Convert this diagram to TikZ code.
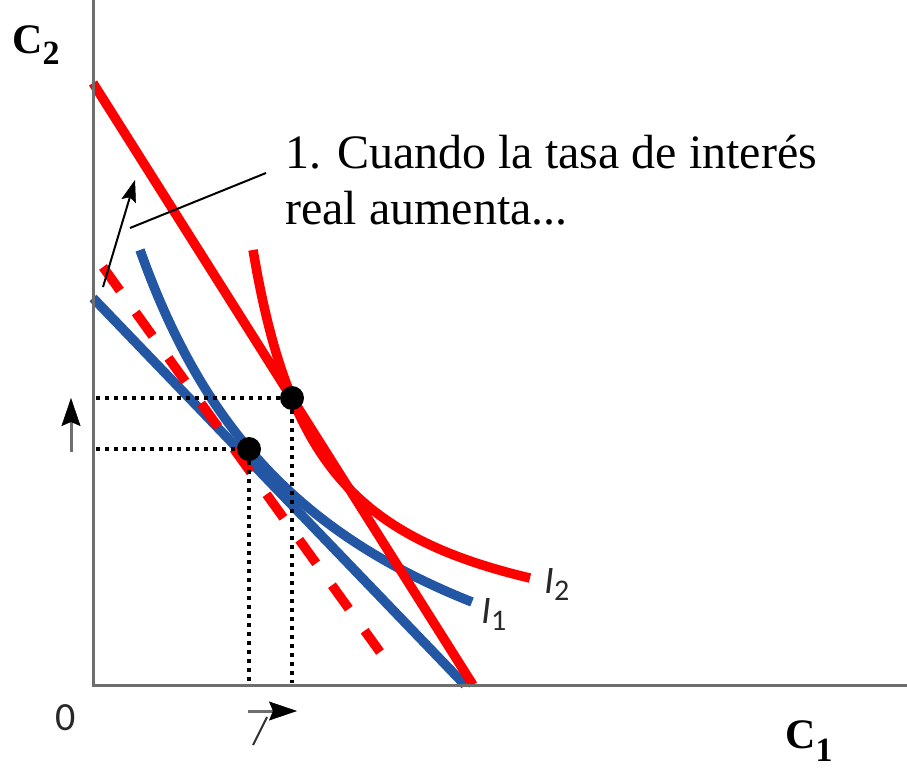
\documentclass[tikz,border=0pt]{standalone}
\usepackage{fontspec}
\setmainfont{Liberation Serif}
\newfontfamily\carl{Carlito}
\usetikzlibrary{arrows.meta}
\definecolor{ecored}{RGB}{255,0,0}
\definecolor{ecoblue}{RGB}{35,87,163}
\definecolor{axisgray}{RGB}{110,110,110}
\definecolor{labgray}{RGB}{40,40,40}
\begin{document}
\begin{tikzpicture}[x=1pt,y=-1pt,
  axisline/.style={draw=axisgray,line width=3pt},
  redline/.style={draw=ecored,line width=9.5pt},
  blueline/.style={draw=ecoblue,line width=9.5pt},
  reddash/.style={draw=ecored,line width=9.5pt,dash pattern=on 29pt off 27pt},
  guide/.style={draw=black,line width=3.5pt,dash pattern=on 3.5pt off 5.5pt},
  eqpt/.style={circle,fill=black,inner sep=0pt,minimum size=24pt},
  grayarrow/.style={draw=axisgray,line width=3pt,-{Stealth[length=28pt,width=19pt,inset=4pt,black,line width=0.5pt]}},
  leader/.style={draw=black,line width=2pt},
  leadarrow/.style={draw=black,line width=2pt,-{Stealth[length=22pt,width=15pt,inset=4pt,black,line width=0.5pt]}},
  bigtext/.style={anchor=base west,inner sep=0pt,font=\fontsize{48}{56}\selectfont},
  axlabel/.style={anchor=base west,inner sep=0pt,font=\bfseries\fontsize{42}{42}\selectfont},
  curvelabel/.style={anchor=base west,inner sep=0pt,text=labgray,font=\carl\fontsize{39}{39}\selectfont}]
\useasboundingbox (0,0) rectangle (907,768);

% coordinates
\coordinate (O) at (93,685);
\coordinate (Ytop) at (93,0);
\coordinate (Xend) at (907,685);
\coordinate (RA) at (93,83);
\coordinate (RB) at (473,685);
\coordinate (BA) at (93,298);
\coordinate (BB) at (465,685);
\coordinate (DA) at (103,267);
\coordinate (DB) at (380,652);

% indifference curve I1 and original budget line
\draw[blueline,domain=140:472,samples=60,smooth] plot (\x,{814-1127.5/((\x+59.9)/100)});
\draw[blueline] (BA) -- (BB);
% indifference curve I2
\draw[redline,domain=253:530,samples=60,smooth] plot (\x,{659.7-282.5/((\x-184.05)/100)});
% new budget line
\draw[redline] (RA) -- (RB);
% dashed compensated line
\draw[reddash] (DA) -- (DB);

% axes
\draw[axisline] (Ytop) -- (O) -- (Xend);

% equilibrium points
\node[eqpt] (E1) at (249,449) {};
\node[eqpt] (E2) at (292,398) {};
\coordinate (Y1) at (96,449);
\coordinate (Y2) at (96,398);
\coordinate (X1) at (249,683);
\coordinate (X2) at (292,683);
\draw[guide] (Y2) -- (E2);
\draw[guide] (E2) -- (X2);
\draw[guide] (Y1) -- (E1);
\draw[guide] (E1) -- (X1);

% small arrows
\coordinate (ua0) at (71,452);
\coordinate (ua1) at (71,398);
\draw[grayarrow] (ua0) -- (ua1);
\coordinate (ra0) at (248,711);
\coordinate (ra1) at (297,711);
\draw[grayarrow] (ra0) -- (ra1);
\coordinate (sl0) at (253,745);
\coordinate (sl1) at (267,717);
\draw[draw=black!80,line width=2pt] (sl0) -- (sl1);

% annotation
\node[bigtext] (t1) at (285,168) {1. Cuando la tasa de interés};
\node[bigtext] (t2) at (285,224) {real aumenta...};
\coordinate (ll0) at (130,228);
\coordinate (ll1) at (266,173);
\draw[leader] (ll0) -- (ll1);
\coordinate (la0) at (103,287);
\coordinate (la1) at (135,180);
\draw[leadarrow] (la0) -- (la1);

% labels
\node[axlabel] (c2) at (12,53) {C\raisebox{-12pt}{\fontsize{34}{34}\selectfont 2}};
\node[axlabel] (c1) at (785,748) {C\raisebox{-13pt}{\fontsize{34}{34}\selectfont 1}};
\node[anchor=base west,inner sep=0pt,text=labgray,font=\carl\fontsize{40}{40}\selectfont] (zero) at (55,730) {0};
\node[curvelabel] (i1) at (481,623) {\textit{I}\raisebox{-7pt}{\fontsize{30}{30}\selectfont 1}};
\node[curvelabel] (i2) at (544,593) {\textit{I}\raisebox{-7pt}{\fontsize{30}{30}\selectfont 2}};
\end{tikzpicture}
\end{document}
